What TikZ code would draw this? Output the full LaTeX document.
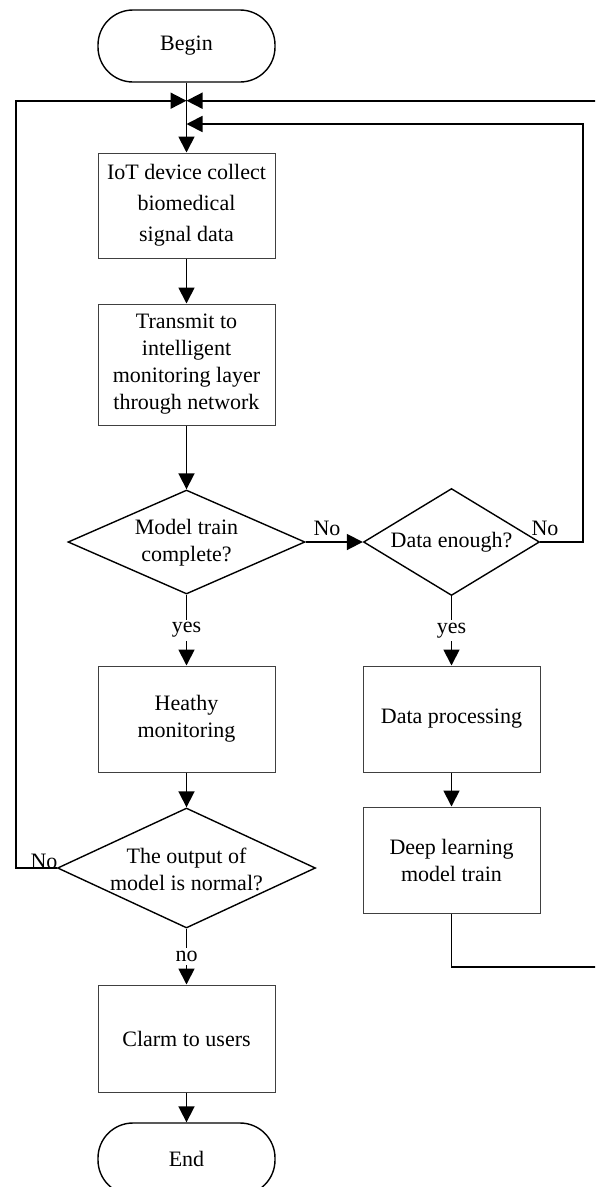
\documentclass[tikz,border=0pt]{standalone}
\usepackage{fontspec}
\setmainfont{Liberation Serif}
\usetikzlibrary{shapes.geometric,arrows.meta}

\tikzset{
  txt/.style={font=\fontsize{22}{27}\selectfont, align=center, inner sep=0pt},
  procbox/.style={txt, draw=black!75, line width=1pt, minimum width=177pt},
  term/.style={txt, draw, line width=1.4pt, minimum width=177pt, minimum height=72pt, rounded corners=35pt},
  dia/.style={diamond, draw, line width=1.4pt, inner sep=0pt},
  flow/.style={line width=1.8pt, -{Triangle[length=16pt,width=16pt]}},
  plain/.style={line width=1.8pt},
  lbl/.style={txt, fill=white, inner sep=3pt},
  tag/.style={txt}
}

\begin{document}
\begin{tikzpicture}[x=1pt,y=-1pt]
  \useasboundingbox (0,0) rectangle (595,1187);
  \clip (0,0) rectangle (595,1187);

  % main column
  \node[term] (begin) at (186.5,46) {Begin};
  \node[procbox, minimum height=105pt, font=\fontsize{22}{31}\selectfont] (iot) at (186.5,205.5)
    {IoT device collect\\biomedical\\signal data};
  \node[procbox, minimum height=121pt] (tx) at (186.5,364.5)
    {Transmit to\\intelligent\\monitoring layer\\through network};
  \node[dia, minimum width=237pt, minimum height=104pt] (trained) at (186.5,542) {};
  \node[txt] (trainedtxt) at (186.5,543) {Model train\\complete?};
  \node[procbox, minimum height=106pt] (health) at (186.5,719) {Heathy\\monitoring};
  \node[dia, minimum width=258pt, minimum height=120pt] (normal) at (186.5,868) {};
  \node[txt] (normaltxt) at (186.5,869) {The output of\\model is normal?};
  \node[procbox, minimum height=107pt] (alarm) at (186.5,1038.5) {Clarm to users};
  \node[term] (end) at (186.5,1159) {End};

  % training column
  \node[dia, minimum width=176pt, minimum height=107pt] (enough) at (451.5,542) {};
  \node[txt] (enoughtxt) at (451.5,542) {Data enough?};
  \node[procbox, minimum height=106pt] (proc) at (451.5,719) {Data processing};
  \node[procbox, minimum height=106pt] (deep) at (451.5,860) {Deep learning\\model train};

  % junction points of the feedback loops
  \coordinate (j1) at (186.5,100.7);
  \coordinate (j2) at (186.5,124);
  \coordinate (lft) at (16,868);
  \coordinate (lfttop) at (16,100.7);
  \coordinate (rgt) at (583,542);
  \coordinate (rgttop) at (583,124);
  \coordinate (dl) at (451.5,967);
  \coordinate (far) at (602,967);
  \coordinate (fartop) at (602,100.7);

  % forward flow
  \draw[flow] (begin) -- (iot);
  \draw[flow] (iot) -- (tx);
  \draw[flow] (tx) -- (trained);
  \draw[flow] (trained) -- node[lbl] {yes} (health);
  \draw[flow] (health) -- (normal);
  \draw[flow] (normal) -- node[lbl] {no} (alarm);
  \draw[flow] (alarm) -- (end);

  \draw[flow] (trained.east) -- (enough.west);
  \node[tag] (notrain) at (327,528) {No};
  \draw[flow] (enough) -- node[lbl] {yes} (proc);
  \draw[flow] (proc) -- (deep);

  % feedback loops
  \draw[flow] (normal.west) -- (lft) -- (lfttop) -- (j1);
  \node[tag] (nonormal) at (44,861) {No};
  \draw[flow] (enough.east) -- (rgt) -- (rgttop) -- (j2);
  \node[tag] (noenough) at (545,528) {No};
  \draw[plain] (deep.south) -- (dl) -- (far);
  \draw[flow] (far) -- (fartop) -- (j1);
\end{tikzpicture}
\end{document}
